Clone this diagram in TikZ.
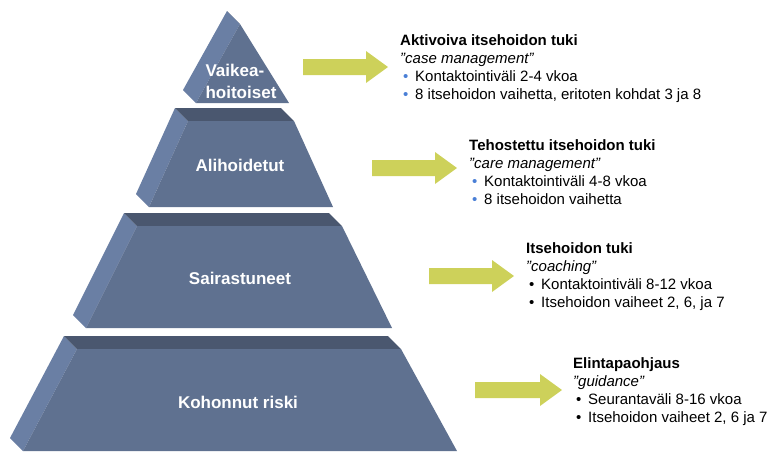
\documentclass[tikz,border=0pt]{standalone}
\usepackage{fontspec}
\setmainfont{Liberation Sans}
\usepackage{xcolor}
\usetikzlibrary{positioning}

\definecolor{frontface}{HTML}{5F7190}
\definecolor{topface}{HTML}{4A576F}
\definecolor{sideface}{HTML}{6A7FA4}
\definecolor{arrowgreen}{HTML}{CDD15A}
\definecolor{bulletblue}{HTML}{4A7FD6}

% one pyramid level: top y, top left x, top right x, bottom y, bottom left x, bottom right x
\newcommand{\pyrlevel}[6]{%
  \fill[sideface] (#2,#1) -- (#2-13,#1-13) -- (#5-13,#4-13) -- (#5,#4) -- cycle;
  \fill[topface] (#2,#1) -- (#2-13,#1-13) -- (#3-13,#1-13) -- (#3,#1) -- cycle;
  \fill[frontface] (#2,#1) -- (#3,#1) -- (#6,#4) -- (#5,#4) -- cycle;
}
% block arrow: tail x, tip x, middle y
\newcommand{\greenarrow}[3]{%
  \fill[arrowgreen] (#1,#3-8) -- (#2-22,#3-8) -- (#2-22,#3-16) -- (#2,#3)
    -- (#2-22,#3+16) -- (#2-22,#3+8) -- (#1,#3+8) -- cycle;
}
\newcommand{\bluebul}{\makebox[15pt][l]{\hspace{3pt}\textcolor{bulletblue}{•}}}
\newcommand{\blackbul}{\makebox[15pt][l]{\hspace{3pt}•}}

\begin{document}
\begin{tikzpicture}[x=1pt, y=-1pt,
  levellabel/.style={text=white, font=\bfseries\fontsize{17}{22}\selectfont, align=center, inner sep=0},
  infotext/.style={anchor=north west, inner sep=0, align=left, font=\fontsize{15}{18.3}\selectfont}]
\useasboundingbox (0,0) rectangle (774,451);
% Pyramid
\pyrlevel{24}{240}{240}{103}{196}{289}
\pyrlevel{121}{188}{294}{207}{149}{333}
\pyrlevel{226}{137}{342}{328}{86}{392}
\pyrlevel{349}{77}{401}{451}{23}{457}
% Level labels
\node[levellabel, align=left] (vaikea) at (241,81) {Vaikea-\\hoitoiset};
\node[levellabel] (alihoidetut) at (240,165) {Alihoidetut};
\node[levellabel] (sairastuneet) at (240,278) {Sairastuneet};
\node[levellabel] (kohonnut) at (238,402) {Kohonnut riski};
% Arrows
\greenarrow{303}{388}{67}
\greenarrow{372}{457}{168}
\greenarrow{429}{514}{276}
\greenarrow{475}{562}{390}
% Texts
\node[infotext] (aktivoiva) at (400,34) {\textbf{Aktivoiva itsehoidon tuki}\\\textit{”case management”}\\\bluebul Kontaktointiväli 2-4 vkoa\\\bluebul 8 itsehoidon vaihetta, eritoten kohdat 3 ja 8};
\node[infotext] (tehostettu) at (469,139) {\textbf{Tehostettu itsehoidon tuki}\\\textit{”care management”}\\\bluebul Kontaktointiväli 4-8 vkoa\\\bluebul 8 itsehoidon vaihetta};
\node[infotext] (itsehoito) at (526,242) {\textbf{Itsehoidon tuki}\\\textit{”coaching”}\\\blackbul Kontaktointiväli 8-12 vkoa\\\blackbul Itsehoidon vaiheet 2, 6, ja 7};
\node[infotext] (elintapa) at (573,357) {\textbf{Elintapaohjaus}\\\textit{”guidance”}\\\blackbul Seurantaväli 8-16 vkoa\\\blackbul Itsehoidon vaiheet 2, 6 ja 7};
\end{tikzpicture}
\end{document}
